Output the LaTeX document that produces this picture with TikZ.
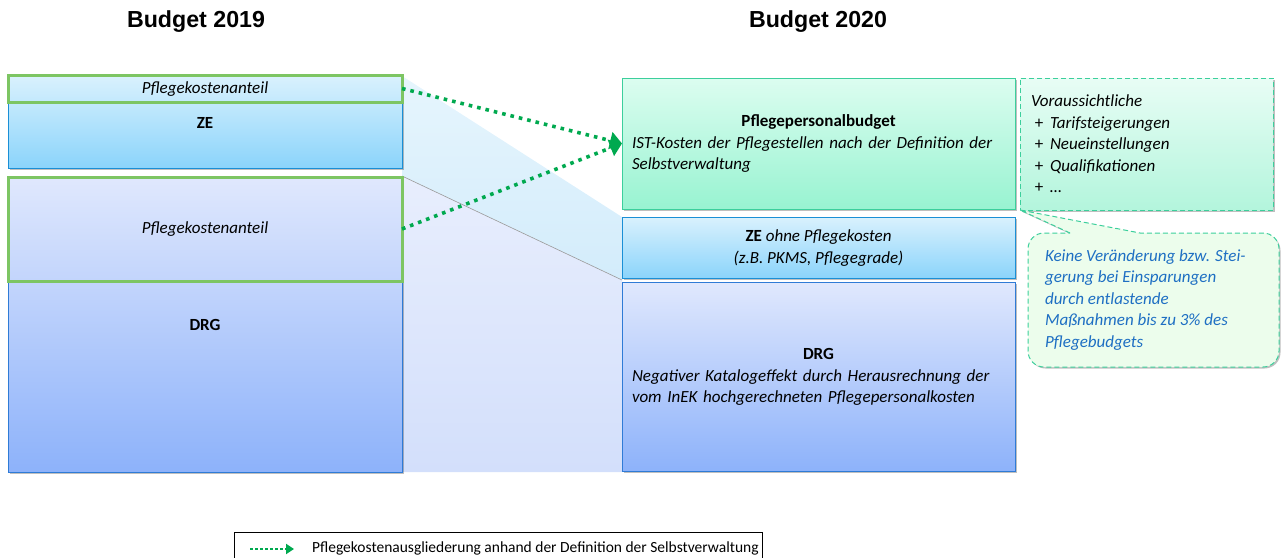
\documentclass[tikz,border=0pt]{standalone}
\usepackage{fontspec}
\setmainfont{Carlito}
\newfontfamily\arialf{Liberation Sans}
\usetikzlibrary{arrows.meta,shadows}
\definecolor{zeTop}{HTML}{D9F1FD}
\definecolor{zeBot}{HTML}{8BD4FB}
\definecolor{zeDraw}{HTML}{1A8FD6}
\definecolor{drgTop}{HTML}{E0E8FD}
\definecolor{drgBot}{HTML}{8DB2FA}
\definecolor{drgDraw}{HTML}{2F7BD6}
\definecolor{ppbTop}{HTML}{DCFDF0}
\definecolor{ppbBot}{HTML}{98F3D1}
\definecolor{ppbDraw}{HTML}{3CCF9C}
\definecolor{pkGreen}{HTML}{7DC563}
\definecolor{arrGreen}{HTML}{00A94F}
\definecolor{calloutFill}{HTML}{ECFDEC}
\definecolor{calloutText}{HTML}{1E6FC3}
\definecolor{dashTop}{HTML}{E8FDF5}
\definecolor{dashBot}{HTML}{B3F5DC}
\definecolor{bandBlue}{HTML}{D3ECFB}
\definecolor{bandBlueTop}{HTML}{E6F5FD}
\definecolor{bandLavTop}{HTML}{E8EEFD}
\definecolor{bandLavBot}{HTML}{D3DFFB}
\newcommand\bodyfnt{\fontsize{17}{21.5}\selectfont}
\begin{document}
\begin{tikzpicture}[x=1pt,y=-1pt,
  every node/.style={inner sep=0pt, outer sep=0pt},
  shad/.style={drop shadow={shadow xshift=1.5pt, shadow yshift=-1.5pt, opacity=0.25, fill=black}},
  zebox/.style={draw=zeDraw, line width=1pt, top color=zeTop, bottom color=zeBot, shad, anchor=north west, font=\bodyfnt},
  drgbox/.style={draw=drgDraw, line width=1pt, top color=drgTop, bottom color=drgBot, shad, anchor=north west, font=\bodyfnt},
  ppbbox/.style={draw=ppbDraw, line width=1pt, top color=ppbTop, bottom color=ppbBot, shad, anchor=north west, font=\bodyfnt},
  pkbox/.style={draw=pkGreen, line width=3pt, anchor=north west, font=\bodyfnt\itshape},
  dashbox/.style={draw=ppbDraw, dashed, dash pattern=on 5pt off 3pt, line width=1pt, top color=dashTop, bottom color=dashBot, shad, anchor=north west, font=\bodyfnt\itshape},
  greenarrow/.style={draw=arrGreen, line width=3.6pt, dash pattern=on 3.6pt off 5pt, -{Triangle[length=12pt,width=17pt]}},
  title/.style={font=\arialf\bfseries\fontsize{23.2}{26}\selectfont}
]
\useasboundingbox (0,0) rectangle (1281,557);

% titles
\node[title] (t19) at (196,22) {Budget 2019};
\node[title] (t20) at (818,22) {Budget 2020};

% background bands
\shade[top color=bandBlueTop, bottom color=bandBlue] (402,76) -- (622,217) -- (622,280) -- (402,176) -- cycle;
\shade[top color=bandLavTop, bottom color=bandLavBot] (402,176) -- (622,280) -- (622,472) -- (402,472) -- cycle;
\draw[draw=black!40, line width=0.6pt] (402,176) -- (622,280);

% left column
\node[zebox, minimum width=394pt, minimum height=92pt] (zeL) at (8,76) {};
\node[font=\bodyfnt\bfseries] (zeLt) at (205,123) {ZE};
\node[drgbox, minimum width=394pt, minimum height=296pt] (drgL) at (8,176) {};
\node[font=\bodyfnt\bfseries] (drgLt) at (205,325) {DRG};
\node[pkbox, minimum width=394pt, minimum height=27pt] (pkTop) at (8,75) {};
\node[font=\bodyfnt\itshape] (pkTopt) at (205,89) {Pflegekostenanteil};
\node[pkbox, minimum width=394pt, minimum height=104pt] (pkBot) at (8,177) {};
\node[font=\bodyfnt\itshape] (pkBott) at (205,229) {Pflegekostenanteil};

% right column
\node[ppbbox, minimum width=393pt, minimum height=131pt] (ppb) at (622,78) {};
\node[font=\bodyfnt, text width=373pt, align=left] (ppbt) at (818.5,143.5)
  {\makebox[\linewidth]{\bfseries Pflegepersonalbudget}\\
   \itshape IST-Kosten der Pflegestellen nach der Definition der\\
   Selbstverwaltung};
\node[zebox, minimum width=393pt, minimum height=61pt] (zeR) at (622,217) {};
\node[font=\bodyfnt, align=center] (zeRt) at (818.5,248)
  {\textbf{ZE} \textit{ohne Pflegekosten}\\ \textit{(z.B. PKMS, Pflegegrade)}};
\node[drgbox, minimum width=393pt, minimum height=189pt] (drgR) at (622,282) {};
\node[font=\bodyfnt, text width=373pt, align=left] (drgRt) at (818.5,377)
  {\makebox[\linewidth]{\bfseries DRG}\\
   \itshape Negativer Katalogeffekt durch Herausrechnung der\\
   vom InEK hochgerechneten Pflegepersonalkosten};

% dashed box
\node[dashbox, minimum width=253pt, minimum height=132pt] (dash) at (1020,78) {};
\node[font=\bodyfnt\itshape, align=left, anchor=west] (dasht) at (1031,144)
  {Voraussichtliche\\
   \makebox[19pt][l]{\upshape ~+}Tarifsteigerungen\\
   \makebox[19pt][l]{\upshape ~+}Neueinstellungen\\
   \makebox[19pt][l]{\upshape ~+}Qualifikationen\\
   \makebox[19pt][l]{\upshape ~+}\dots};

% callout
\coordinate (tip) at (dash.south west);
\path[draw=ppbDraw, dashed, dash pattern=on 5pt off 3pt, line width=1pt, fill=calloutFill, shad]
  (1070,233) [sharp corners] -- (tip) -- (1140,233) [rounded corners=16pt] -- (1279,233) -- (1279,367) -- (1028,367) -- (1028,233) [sharp corners] -- cycle;
\node[font=\bodyfnt\itshape, text=calloutText, align=left, anchor=west] (callt) at (1045,300)
  {Keine Veränderung bzw. Stei-\\
   gerung bei Einsparungen\\
   durch entlastende\\
   Maßnahmen bis zu 3\% des\\
   Pflegebudgets};

% arrows
\draw[greenarrow] (pkTop.east) -- (ppb.west);
\draw[greenarrow] (pkBot.east) -- (ppb.west);

% legend
\node[draw=black, line width=0.8pt, anchor=north west, minimum width=528pt, minimum height=28pt] (leg) at (234,532) {};
\coordinate (legA) at (250,549);
\coordinate (legB) at (294,549);
\draw[draw=arrGreen, line width=2.5pt, dash pattern=on 2.5pt off 2.5pt, -{Triangle[length=8pt,width=10pt]}] (legA) -- (legB);
\node[font=\fontsize{15.5}{17}\selectfont, anchor=west] (legt) at (312,548) {Pflegekostenausgliederung anhand der Definition der Selbstverwaltung};
\end{tikzpicture}
\end{document}
